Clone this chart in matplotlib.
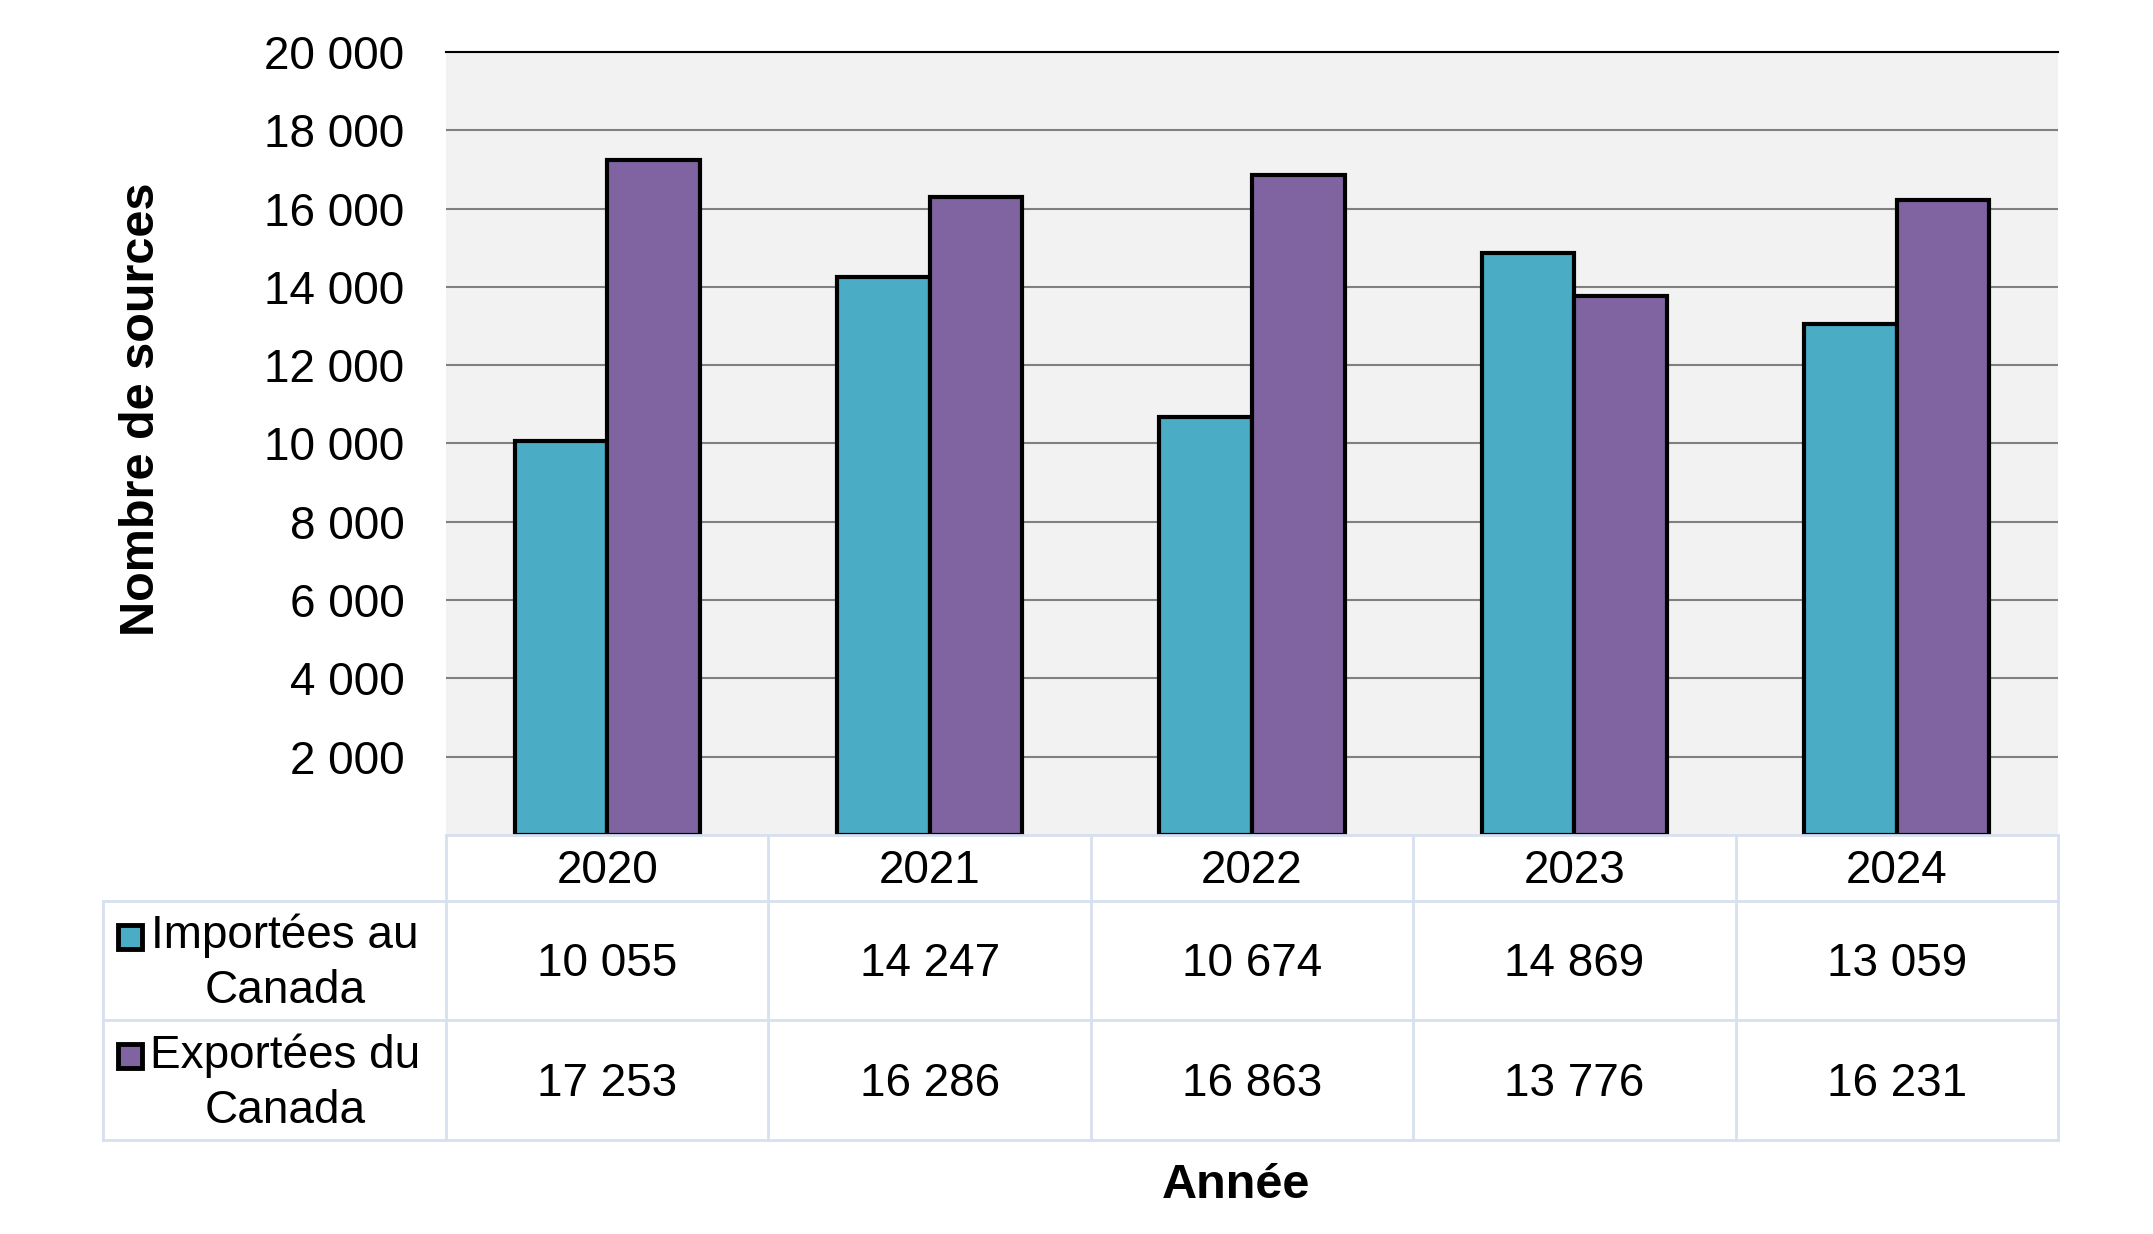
import numpy as np
import matplotlib.pyplot as plt

years = ['2020', '2021', '2022', '2023', '2024']
imported = [10055, 14247, 10674, 14869, 13059]
exported = [17253, 16286, 16863, 13776, 16231]
series_names = ['Importées au\nCanada', 'Exportées du\nCanada']
yticks = [2000, 4000, 6000, 8000, 10000, 12000, 14000, 16000, 18000, 20000]

colors = ['#4BACC6', '#8064A2']
grid_col = '#D6E0EE'

plt.rcParams['font.family'] = ['Liberation Sans', 'DejaVu Sans']


def fmt(v):
    return f"{v:,}".replace(",", " ")


W, H = 2153, 1234
fig = plt.figure(figsize=(W / 100, H / 100), dpi=100)

# main plot area (pixel layout)
left, right, top, bottom = 446, 2058, 52, 835
ax = fig.add_axes([left / W, 1 - bottom / H, (right - left) / W, (bottom - top) / H])
ax.set_facecolor('#F2F2F2')

x = np.arange(len(years))
bw = 0.287
ax.bar(x - bw / 2, imported, bw, color=colors[0], edgecolor='black', linewidth=3, zorder=3)
ax.bar(x + bw / 2, exported, bw, color=colors[1], edgecolor='black', linewidth=3, zorder=3)

ax.set_xlim(-0.5, len(years) - 0.5)
ax.set_ylim(0, 20000)
ax.set_yticks(yticks)
ax.set_yticklabels([fmt(t) for t in yticks], fontsize=33)
ax.tick_params(axis='y', length=0, pad=30)
ax.set_xticks([])
ax.grid(axis='y', color='#808080', linewidth=1.5, zorder=1)
for s in ['left', 'right', 'bottom']:
    ax.spines[s].set_visible(False)
ax.spines['top'].set_color('black')
ax.spines['top'].set_linewidth(1.5)

# data table under the chart
tb_top, tb_bot, lab_left = 835, 1140, 103
row_edges = [835, 901, 1020, 1140]
tax = fig.add_axes([left / W, 1 - tb_bot / H, (right - left) / W, (tb_bot - tb_top) / H])
tax.set_xlim(-0.5, len(years) - 0.5)
tax.set_ylim(tb_bot, tb_top)
tax.axis('off')
cat_px = (right - left) / len(years)
xlab = -0.5 - (left - lab_left) / cat_px

lw = 2
# horizontal lines
tax.plot([-0.5, len(years) - 0.5], [row_edges[0]] * 2, color=grid_col, lw=lw, clip_on=False)
for r in row_edges[1:]:
    tax.plot([xlab, len(years) - 0.5], [r, r], color=grid_col, lw=lw, clip_on=False)
# vertical lines
for i in range(len(years) + 1):
    tax.plot([i - 0.5, i - 0.5], [row_edges[0], row_edges[-1]], color=grid_col, lw=lw, clip_on=False)
tax.plot([xlab, xlab], [row_edges[1], row_edges[-1]], color=grid_col, lw=lw, clip_on=False)

for i, yr in enumerate(years):
    tax.text(i, (row_edges[0] + row_edges[1]) / 2 + 3, yr, ha='center', va='center', fontsize=33)

for k, vals in enumerate([imported, exported]):
    yc = (row_edges[k + 1] + row_edges[k + 2]) / 2
    for i, v in enumerate(vals):
        tax.text(i, yc + 4, fmt(v), ha='center', va='center', fontsize=33)
    # legend key + name
    tax.plot([xlab + 27 / cat_px], [yc - 24], marker='s', markersize=17, color=colors[k],
             markeredgecolor='black', markeredgewidth=3.5, clip_on=False)
    tax.text(xlab + 182 / cat_px, yc + 3, series_names[k], ha='center', va='center',
             fontsize=33, linespacing=1.32, clip_on=False)

fig.text(1236 / W, 1 - 1186 / H, 'Année', ha='center', va='center', fontsize=35, fontweight='bold')
fig.text(141 / W, 1 - 409 / H, 'Nombre de sources', ha='center', va='center', rotation=90,
         fontsize=35, fontweight='bold')

plt.savefig('out.png', dpi=100)
